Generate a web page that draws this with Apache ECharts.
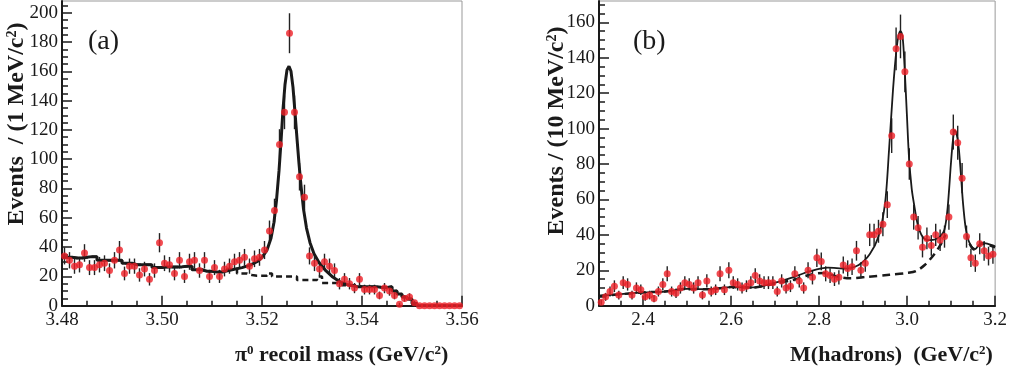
<!DOCTYPE html>
<html>
<head>
<meta charset="utf-8">
<script src="https://cdn.jsdelivr.net/npm/echarts/dist/echarts.min.js"></script>
<style>
html,body{margin:0;padding:0;background:#fff;}
#c{width:1010px;height:374px;}
</style>
</head>
<body>
<div id="c"></div>
<script>
// ---------------- Panel (a) data ----------------
const binStartA = 3.48;
const binWidthA = 0.001;
const countsA = [
  34,31,27,28,36,26,26,28,29,24,
  31,38,22,27,27,21,25,18,24,43,
  29,28,22,31,20,30,31,24,31,20,
  26,20,25,27,30,31,33,27,32,33,
  38,51,65,110,132,186,132,88,74,34,
  29,25,30,27,24,15,18,15,12,18,
  11,11,11,7,12,10,7,1,5,6,
  2,0,0,0,0,0,0,0,0,0
];
const bgA = [
  33,33,32.5,32.5,33,33.5,33.5,31,31,31,
  31,31,29,29,28,28,28,28,26,26,
  26.5,26.5,26.5,26.5,27,27,24.5,24.5,23.5,23.5,
  23,23,23.5,25,25,22,22,21,20.5,20.5,
  20.5,22,20,20,20,20,20,17.5,17.5,17.5,
  17.5,20,15.5,15.5,15.5,15.5,14,14,14,13,
  13,13,13,12.5,12.5,13,10,8,6,4.5,
  1.5,0,0,0,0,0,0,0,0,0
];
const peakFitA = [
  [3.5120,23.5],[3.5140,24.5],[3.5160,26],[3.5175,27.5],[3.5190,30],[3.5200,33],
  [3.5210,38],[3.5218,46],[3.5224,57],[3.5229,72],[3.5234,92],[3.5238,112],
  [3.5242,134],[3.5246,151],[3.5250,161],[3.5254,163.5],[3.5258,160],[3.5262,149],
  [3.5266,132],[3.5270,114],[3.5274,97],[3.5278,82],[3.5283,66],[3.5289,53],
  [3.5296,43],[3.5304,35.5],[3.5314,29.5],[3.5326,24.5],[3.5340,20],[3.5355,16.5],
  [3.5370,14.5],[3.5385,13.5]
];
const peakFromA = 3.512, peakToA = 3.539;
const xTicksA = [3.48, 3.50, 3.52, 3.54, 3.56];
const yTicksA = [0,20,40,60,80,100,120,140,160,180,200];

// ---------------- Panel (b) data ----------------
const binStartB = 2.30;
const binWidthB = 0.01;
const countsB = [
  2,5,8,11,6,13,12,6,10,9,
  5,6,4,8,12,18,8,7,10,13,
  12,10,13,6,14,8,9,18,9,20,
  13,12,10,11,13,17,14,13,13,13,
  8,14,10,11,18,14,10,20,16,27,
  25,18,17,15,16,23,21,22,31,20,
  24,40,40,42,46,57,96,145,152,132,
  80,50,44,33,38,34,40,37,39,50,
  98,92,72,39,27,24,35,31,28,29
];
// background curve: null marks the stretch hidden under the J/psi peak
const bgB = [
  [2.30,5.5],[2.35,6.5],[2.40,7.5],[2.45,8],[2.50,9.5],[2.55,9.3],[2.60,10.5],
  [2.65,10.3],[2.70,12.5],[2.74,14.5],[2.78,17.5],[2.81,18.5],[2.84,16.5],[2.87,15.5],
  [2.91,16.3],[2.96,17.5],[3.00,18.5],[3.02,19.5],[3.04,23],[3.06,28.5],[3.075,34],
  [3.087,40],[3.10,null],
  [3.142,35],[3.148,32.5],[3.155,31.5],[3.162,33.5],[3.170,35],[3.182,34.5],[3.20,33]
];
const fitB = [
  [2.30,5.5],[2.35,6.5],[2.40,7.5],[2.45,8],[2.50,9.5],[2.55,9.3],[2.60,10.5],
  [2.65,10.3],[2.70,13],[2.74,16],[2.78,19.5],[2.82,21.5],[2.86,21],[2.89,23],
  [2.915,29],[2.935,39],[2.950,58],[2.959,88],[2.968,122],[2.976,145],[2.981,153],
  [2.985,155],[2.990,151],[2.994,136],[2.9995,108],[3.0045,83],[3.0105,66],[3.016,57],
  [3.024,46],[3.035,39],[3.05,37],[3.065,37.5],[3.077,39.5],[3.085,43],[3.092,55],
  [3.0995,80],[3.104,93],[3.108,99],[3.112,97.5],[3.117,90],[3.122,75],[3.127,58],
  [3.133,44],[3.140,36.5],[3.148,33],[3.155,32],[3.162,34],[3.170,35.5],[3.182,35],
  [3.20,33.5]
];
const xTicksB = [2.4, 2.6, 2.8, 3.0, 3.2];
const yTicksB = [0,20,40,60,80,100,120,140,160];

// ---------------- helpers ----------------
function range(a, b, s) {
  const out = [];
  const n = Math.round((b - a) / s);
  for (let k = 0; k <= n; k++) out.push(+(a + k * s).toFixed(6));
  return out;
}
const SERIF = "'Liberation Serif','Times New Roman',serif";
const INK = '#1a1a1a';
const RED = '#ee1f27';

function stepPoints(vals, start, w, from, to) {
  const pts = [];
  vals.forEach((v, i) => {
    const lo = +(start + i * w).toFixed(6), hi = +(start + (i + 1) * w).toFixed(6);
    if (lo >= from - 1e-9 && hi <= to + 1e-9) { pts.push([lo, v]); pts.push([hi, v]); }
  });
  return pts;
}

const ptsA = countsA.map((v, i) => [+(binStartA + (i + 0.5) * binWidthA).toFixed(6), v]);
const bgStepA = stepPoints(bgA, binStartA, binWidthA, 3.48, 3.56);
const fitLineA = []
  .concat(stepPoints(bgA, binStartA, binWidthA, 3.48, peakFromA))
  .concat(peakFitA)
  .concat(stepPoints(bgA, binStartA, binWidthA, peakToA, 3.56));

const ptsB = countsB.map((v, i) => [+(binStartB + (i + 0.5) * binWidthB).toFixed(6), v]);
const bgLineB = bgB.map(p => [p[0], p[1] === null ? '-' : p[1]]);

function xAxes(g, min, max, ticks, minor, fmt) {
  return [
    { type:'value', gridIndex:g, min, max, position:'bottom',
      axisLine:{show:true, onZero:false, lineStyle:{color:INK, width:2}},
      axisTick:{show:true, inside:true, length:10, customValues:ticks, lineStyle:{color:INK, width:1.5}},
      axisLabel:{show:true, customValues:ticks, formatter:fmt, fontFamily:SERIF, fontSize:19, color:INK, margin:5},
      splitLine:{show:false} },
    { type:'value', gridIndex:g, min, max, position:'bottom', offset:0,
      axisLine:{show:false},
      axisTick:{show:true, inside:true, length:5, customValues:minor, lineStyle:{color:INK, width:1.5}},
      axisLabel:{show:false}, splitLine:{show:false} }
  ];
}
function yAxes(g, min, max, ticks, minor) {
  return [
    { type:'value', gridIndex:g, min, max, position:'left',
      axisLine:{show:true, onZero:false, lineStyle:{color:INK, width:2}},
      axisTick:{show:true, inside:true, length:10, customValues:ticks, lineStyle:{color:INK, width:1.5}},
      axisLabel:{show:true, customValues:ticks, fontFamily:SERIF, fontSize:19, color:INK, margin:4},
      splitLine:{show:false} },
    { type:'value', gridIndex:g, min, max, position:'left', offset:0,
      axisLine:{show:false},
      axisTick:{show:true, inside:true, length:6, customValues:minor, lineStyle:{color:INK, width:1.5}},
      axisLabel:{show:false}, splitLine:{show:false} }
  ];
}

function errSeries(pts, xi, yi) {
  return {
    type:'custom', xAxisIndex:xi, yAxisIndex:yi, z:3, silent:true,
    data: pts.map(p => [p[0], p[1], Math.sqrt(p[1])]),
    renderItem: (params, api) => {
      const x = api.value(0), y = api.value(1), e = api.value(2);
      if (!e) return null;
      const a = api.coord([x, y - e]), b = api.coord([x, y + e]);
      return { type:'line', shape:{x1:a[0], y1:a[1], x2:b[0], y2:b[1]},
               style:{stroke:'#222', lineWidth:1.4} };
    }
  };
}

const chart = echarts.init(document.getElementById('c'), null, {renderer:'canvas'});
const richB = (fs, ss) => ({
  b:{fontFamily:SERIF, fontWeight:'bold', fontSize:fs, fill:INK, color:INK},
  s:{fontFamily:SERIF, fontWeight:'bold', fontSize:ss, verticalAlign:'top', fill:INK, color:INK}
});
const option = {
  animation:false,
  backgroundColor:'#fff',
  grid:[
    {left:62, top:1, width:400, height:304.7, show:true, borderColor:'#999', borderWidth:1},
    {left:599, top:1, width:399, height:304.7, show:true, borderColor:'#999', borderWidth:1}
  ],
  xAxis: []
    .concat(xAxes(0, 3.48, 3.56, xTicksA, range(3.48, 3.56, 0.005), v => v.toFixed(2)))
    .concat(xAxes(1, 2.3, 3.2, xTicksB, range(2.3, 3.2, 0.05), v => v.toFixed(1))),
  yAxis: []
    .concat(yAxes(0, 0, 208, yTicksA, range(0, 205, 5)))
    .concat(yAxes(1, 0, 172, yTicksB, range(0, 170, 5))),
  series:[
    { type:'line', xAxisIndex:0, yAxisIndex:0, data:bgStepA, showSymbol:false, z:2,
      lineStyle:{color:INK, width:2.5, type:[6,4]} },
    { type:'line', xAxisIndex:0, yAxisIndex:0, data:fitLineA, showSymbol:false, z:4,
      lineStyle:{color:INK, width:3} },
    errSeries(ptsA, 0, 0),
    { type:'scatter', xAxisIndex:0, yAxisIndex:0, data:ptsA, symbolSize:7, z:5, clip:false,
      itemStyle:{color:RED} },
    { type:'line', xAxisIndex:2, yAxisIndex:2, data:bgLineB, showSymbol:false, smooth:0.3, z:2,
      connectNulls:false, lineStyle:{color:INK, width:2.5, type:[8,5]} },
    { type:'line', xAxisIndex:2, yAxisIndex:2, data:fitB, showSymbol:false, smooth:0.3, z:4,
      lineStyle:{color:INK, width:1.8} },
    errSeries(ptsB, 2, 2),
    { type:'scatter', xAxisIndex:2, yAxisIndex:2, data:ptsB, symbolSize:7, z:5, clip:false,
      itemStyle:{color:RED} }
  ],
  graphic:[
    { type:'text', left:88, top:28, style:{text:'(a)', font:"28px 'Liberation Serif'", fill:INK} },
    { type:'text', left:633, top:28, style:{text:'(b)', font:"28px 'Liberation Serif'", fill:INK} },
    { type:'text', x:341.7, y:355,
      style:{ text:'{b|π}{s|0}{b| recoil mass (GeV/c}{s|2}{b|)}', fill:INK,
        align:'center', verticalAlign:'middle', textAlign:'center', textVerticalAlign:'middle',
        rich:richB(22, 13) } },
    { type:'text', x:891.5, y:355,
      style:{ text:'{b|M(hadrons)  (GeV/c}{s|2}{b|)}', fill:INK,
        align:'center', verticalAlign:'middle', textAlign:'center', textVerticalAlign:'middle',
        rich:richB(22, 13) } },
    { type:'text', x:17, y:124, rotation:Math.PI/2,
      style:{ text:'{b|Events  / (1 MeV/c}{s|2}{b|)}', fill:INK,
        align:'center', verticalAlign:'middle', textAlign:'center', textVerticalAlign:'middle',
        rich:richB(24, 14) } },
    { type:'text', x:557, y:131, rotation:Math.PI/2,
      style:{ text:'{b|Events / (10 MeV/c}{s|2}{b|)}', fill:INK,
        align:'center', verticalAlign:'middle', textAlign:'center', textVerticalAlign:'middle',
        rich:richB(24, 14) } }
  ]
};
chart.setOption(option);
</script>
</body>
</html>
